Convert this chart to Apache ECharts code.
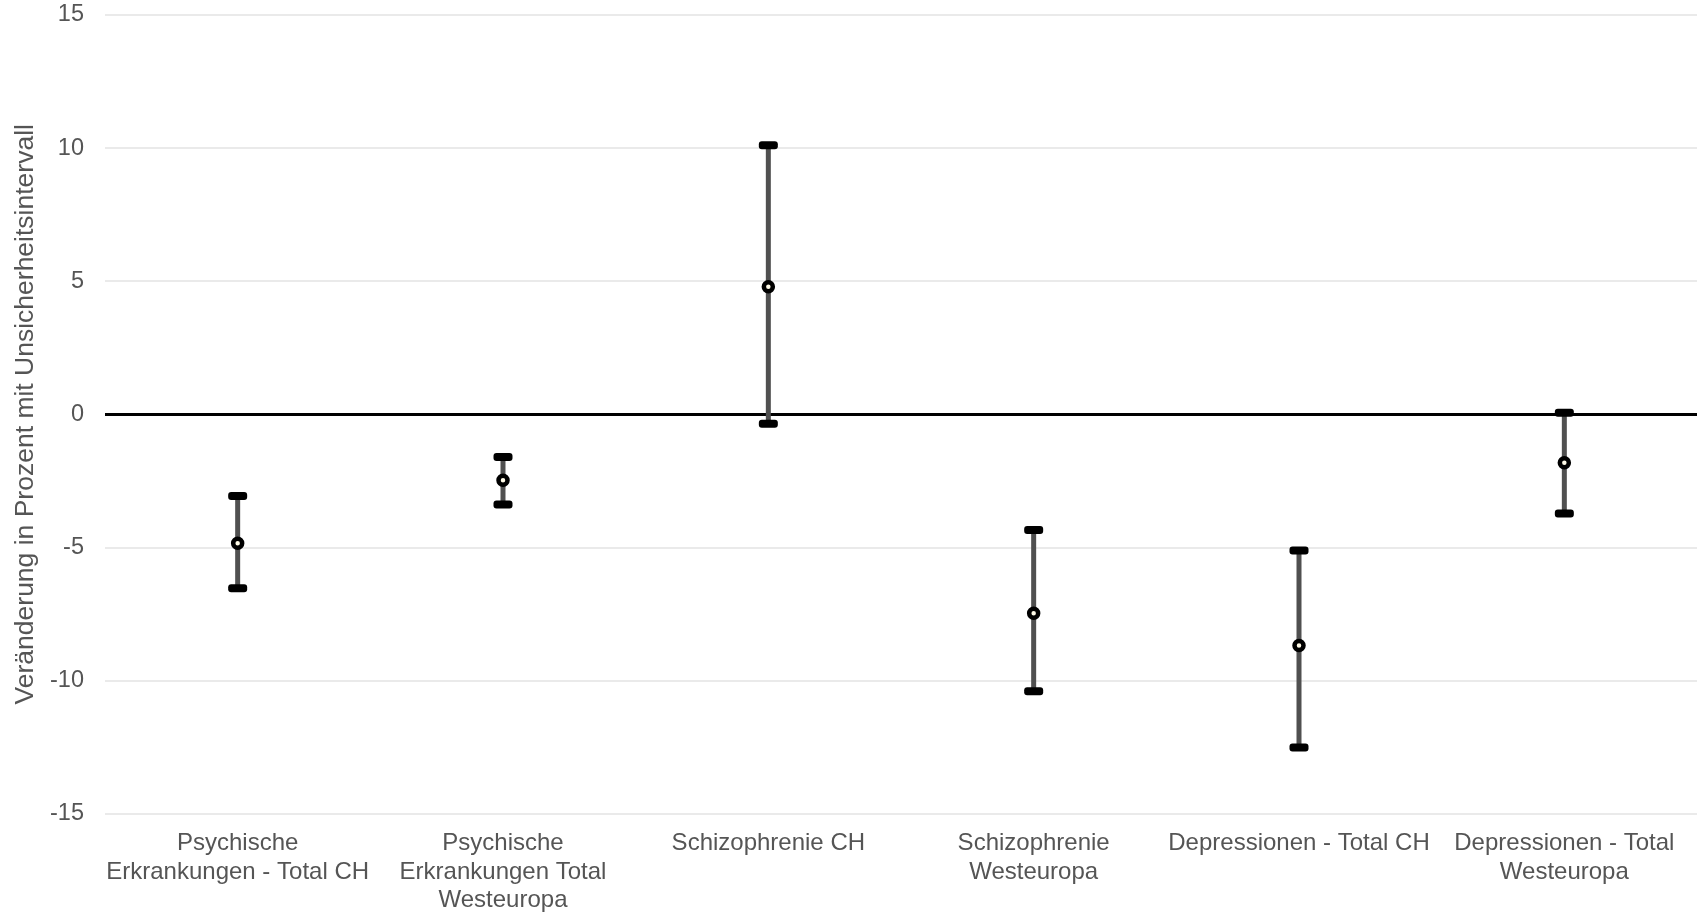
<!DOCTYPE html>
<html>
<head>
<meta charset="utf-8">
<script src="https://cdn.jsdelivr.net/npm/echarts@6/dist/echarts.min.js"></script>
<style>
html,body{margin:0;padding:0;background:#fff;}
#chart{width:1704px;height:915px;}
</style>
</head>
<body>
<div id="chart"></div>
<script>
const categories = [
  "Psychische\nErkrankungen - Total CH",
  "Psychische\nErkrankungen Total\nWesteuropa",
  "Schizophrenie CH",
  "Schizophrenie\nWesteuropa",
  "Depressionen - Total CH",
  "Depressionen - Total\nWesteuropa"
];
const estimate = [-4.85, -2.48, 4.79, -7.48, -8.69, -1.82];
const lower = [-6.54, -3.39, -0.36, -10.41, -12.52, -3.73];
const upper = [-3.07, -1.61, 10.11, -4.35, -5.12, 0.06];
const yTicks = [-15, -10, -5, 0, 5, 10, 15];
const yTitle = "Veränderung in Prozent mit Unsicherheitsintervall";

const FONT = "'Liberation Sans', Arial, sans-serif";
const TEXT = "#555555";

const chart = echarts.init(document.getElementById('chart'), null, {renderer: 'canvas'});

const errData = categories.map((c, i) => [i, lower[i], upper[i]]);
const ptData = categories.map((c, i) => [i, estimate[i]]);

chart.setOption({
  backgroundColor: '#ffffff',
  animation: false,
  textStyle: {fontFamily: FONT},
  grid: {left: 105, right: 7, top: 15, bottom: 99, containLabel: false},
  xAxis: {
    type: 'category',
    data: categories,
    boundaryGap: true,
    axisLine: {show: false},
    axisTick: {show: false},
    splitLine: {show: false},
    axisLabel: {
      interval: 0,
      color: TEXT,
      fontFamily: FONT,
      fontSize: 24,
      lineHeight: 28.5,
      margin: 16,
      align: 'center',
      verticalAlign: 'top'
    }
  },
  yAxis: {
    type: 'value',
    min: yTicks[0],
    max: yTicks[yTicks.length - 1],
    interval: 5,
    name: yTitle,
    nameLocation: 'middle',
    nameGap: 66,
    nameRotate: 90,
    nameTextStyle: {color: TEXT, fontFamily: FONT, fontSize: 26.5},
    axisLine: {show: false},
    axisTick: {show: false},
    axisLabel: {color: TEXT, fontFamily: FONT, fontSize: 23.5, margin: 21},
    splitLine: {show: true, lineStyle: {color: '#e3e3e3', width: 1.5}}
  },
  series: [
    {
      type: 'custom',
      name: 'interval',
      data: errData,
      encode: {x: 0, y: [1, 2]},
      z: 2,
      renderItem: function (params, api) {
        const x = api.value(0);
        const lo = api.coord([x, api.value(1)]);
        const hi = api.coord([x, api.value(2)]);
        const capW = 19, capH = 8;
        return {
          type: 'group',
          children: [
            {
              type: 'line',
              shape: {x1: lo[0], y1: lo[1], x2: hi[0], y2: hi[1]},
              style: {stroke: '#505050', lineWidth: 5}
            },
            {
              type: 'rect',
              shape: {x: hi[0] - capW / 2, y: hi[1] - capH / 2, width: capW, height: capH, r: 3},
              style: {fill: '#000000'}
            },
            {
              type: 'rect',
              shape: {x: lo[0] - capW / 2, y: lo[1] - capH / 2, width: capW, height: capH, r: 3},
              style: {fill: '#000000'}
            }
          ]
        };
      },
      markLine: {
        silent: true,
        symbol: ['none', 'none'],
        label: {show: false},
        lineStyle: {color: '#000000', width: 3, type: 'solid'},
        data: [{yAxis: 0}],
        z: 1
      }
    },
    {
      type: 'scatter',
      name: 'estimate',
      data: ptData,
      z: 5,
      symbol: 'circle',
      symbolSize: 9,
      itemStyle: {color: '#fffbe8', borderColor: '#000000', borderWidth: 4.5, opacity: 1}
    }
  ]
});
</script>
</body>
</html>
